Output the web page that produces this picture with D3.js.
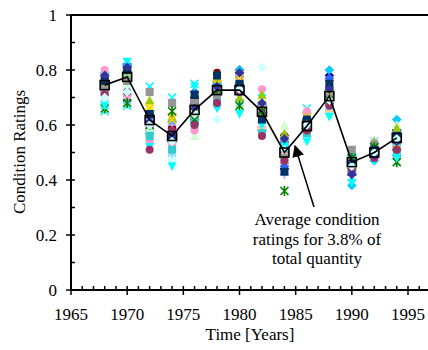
<!DOCTYPE html>
<html><head><meta charset="utf-8">
<script src="https://cdn.jsdelivr.net/npm/d3@7"></script>
<style>body{margin:0;background:#fff}svg{display:block}text{font-family:"Liberation Serif","Times New Roman",serif;fill:#000}</style>
</head><body><svg id="c" width="428" height="350"></svg>
<script>
const years = [1968,1970,1972,1974,1976,1978,1980,1982,1984,1986,1988,1990,1992,1994];
const average = [0.745,0.775,0.618,0.56,0.655,0.727,0.727,0.648,0.50,0.596,0.705,0.465,0.50,0.553];
const xTicks = [1965,1970,1975,1980,1985,1990,1995];
const yTicks = [0,0.2,0.4,0.6,0.8,1];
const seriesColors = ["#000080","#FF00FF","#FFFF00","#00FFFF","#800080","#800000","#008080","#0000FF","#00CCFF","#CCFFFF","#CCFFCC","#FFFF99","#99CCFF","#FF99CC","#CC99FF","#FFCC99","#3366FF","#33CCCC","#99CC00","#FFCC00","#969696","#008000","#00FFFF","#003366","#993366","#333399","#CCFFFF"];
const seriesShapes = ["diamond","square","triangle","x","asterisk","circle","plus","dash","diamond","square","triangle","x","asterisk","circle","plus","dash","diamond","square","triangle","x","square","asterisk","tridown","square","circle","diamond","diamond"];
const s0  = [0.79,0.81,0.65,0.55,0.70,0.76,0.80,0.66,0.44,0.61,0.78,0.44,0.50,0.55];
const s1  = [0.72,0.79,0.60,0.58,0.63,0.68,0.73,0.60,0.53,0.57,0.68,0.46,0.51,0.52];
const s2  = [0.76,0.80,0.67,0.62,0.66,0.77,0.76,0.69,0.49,0.59,0.74,0.48,0.53,0.57];
const s3  = [0.65,0.67,0.74,0.70,0.75,0.73,0.70,0.72,0.51,0.66,0.67,0.47,0.49,0.54];
const s4  = [0.75,0.70,0.63,0.60,0.67,0.74,0.77,0.65,0.55,0.63,0.75,0.45,0.52,0.50];
const s5  = [0.77,0.78,0.64,0.59,0.69,0.79,0.78,0.64,0.56,0.60,0.72,0.43,0.50,0.56];
const s6  = [0.73,0.76,0.58,0.57,0.62,0.71,0.69,0.58,0.46,0.58,0.69,0.49,0.48,0.51];
const s7  = [0.74,0.82,0.62,0.54,0.68,0.72,0.75,0.67,0.50,0.62,0.71,0.42,0.51,0.58];
const s8  = [0.79,0.82,0.57,0.61,0.65,0.75,0.80,0.63,0.52,0.60,0.80,0.38,0.47,0.62];
const s9  = [0.69,0.73,0.55,0.48,0.59,0.70,0.72,0.61,0.48,0.56,0.70,0.46,0.50,0.55];
const s10 = [0.71,0.74,0.59,0.52,0.56,0.69,0.66,0.70,0.60,0.55,0.64,0.44,0.49,0.60];
const s11 = [0.78,0.79,0.66,0.56,0.64,0.78,0.77,0.68,0.47,0.64,0.76,0.48,0.52,0.53];
const s12 = [0.70,0.69,0.61,0.50,0.60,0.72,0.68,0.62,0.54,0.58,0.66,0.41,0.54,0.49];
const s13 = [0.80,0.71,0.54,0.53,0.58,0.67,0.74,0.73,0.49,0.65,0.73,0.45,0.48,0.56];
const s14 = [0.72,0.77,0.62,0.60,0.63,0.73,0.71,0.66,0.42,0.61,0.68,0.40,0.50,0.52];
const s15 = [0.76,0.75,0.68,0.64,0.66,0.76,0.76,0.59,0.51,0.59,0.65,0.47,0.53,0.54];
const s16 = [0.78,0.80,0.63,0.57,0.72,0.74,0.79,0.64,0.45,0.62,0.77,0.43,0.49,0.57];
const s17 = [0.74,0.78,0.56,0.51,0.61,0.70,0.73,0.57,0.53,0.57,0.72,0.49,0.51,0.50];
const s18 = [0.77,0.81,0.69,0.63,0.64,0.77,0.70,0.71,0.57,0.60,0.74,0.47,0.54,0.59];
const s19 = [0.75,0.79,0.66,0.62,0.67,0.75,0.78,0.67,0.50,0.63,0.71,0.45,0.50,0.53];
const s20 = [0.73,0.76,0.72,0.68,0.68,0.71,0.74,0.63,0.48,0.59,0.70,0.51,0.53,0.55];
const s21 = [0.66,0.68,0.60,0.65,0.62,0.73,0.67,0.65,0.36,0.61,0.69,0.48,0.52,0.465];
const s22 = [0.67,0.83,0.52,0.45,0.74,0.66,0.64,0.60,0.52,0.54,0.63,0.39,0.47,0.48];
const s23 = [0.76,0.80,0.64,0.55,0.71,0.78,0.75,0.62,0.43,0.62,0.75,0.46,0.51,0.56];
const s24 = [0.71,0.72,0.51,0.58,0.60,0.68,0.72,0.56,0.47,0.58,0.67,0.44,0.48,0.51];
const s25 = [0.78,0.81,0.61,0.56,0.66,0.74,0.79,0.68,0.55,0.60,0.73,0.42,0.49,0.54];
const s26 = [0.70,0.72,0.60,0.54,0.64,0.62,0.73,0.81,0.51,0.60,0.69,0.45,0.50,0.55];
const seriesValues = [s0,s1,s2,s3,s4,s5,s6,s7,s8,s9,s10,s11,s12,s13,s14,s15,s16,s17,s18,s19,s20,s21,s22,s23,s24,s25,s26];

const svg = d3.select("#c");
const x = d3.scaleLinear().domain([1965,1995]).range([71,408]);
const y = d3.scaleLinear().domain([0,1]).range([290,15]);

function shapePath(t){
  switch(t){
    case "diamond": return {d:"M0,-4.8L4.8,0L0,4.8L-4.8,0Z",fill:true};
    case "square": return {d:"M-4,-4H4V4H-4Z",fill:true};
    case "triangle": return {d:"M0,-4.8L4.5,4L-4.5,4Z",fill:true};
    case "tridown": return {d:"M0,4.8L4.5,-4L-4.5,-4Z",fill:true};
    case "circle": return {d:"M4,0A4,4 0 1,1 -4,0A4,4 0 1,1 4,0Z",fill:true};
    case "dash": return {d:"M-4.5,-1.3H4.5V1.3H-4.5Z",fill:true};
    case "x": return {d:"M-4,-4L4,4M-4,4L4,-4",fill:false};
    case "asterisk": return {d:"M-4,-4L4,4M-4,4L4,-4M0,-5V5",fill:false};
    case "plus": return {d:"M-4.5,0H4.5M0,-4.5V4.5",fill:false};
  }
}

// markers
const gm = svg.append("g");
seriesValues.forEach((vals,i)=>{
  const sp = shapePath(seriesShapes[i]);
  gm.selectAll(null).data(vals.map((v,j)=>({yr:years[j],v}))).enter().append("path")
    .attr("transform",d=>`translate(${x(d.yr)},${y(d.v)})`)
    .attr("d",sp.d)
    .attr("fill",sp.fill?seriesColors[i]:"none")
    .attr("stroke",sp.fill?"none":seriesColors[i])
    .attr("stroke-width",1.7);
});

// average line
const pts = years.map((yr,j)=>({yr,v:average[j]}));
svg.append("path").datum(pts)
  .attr("d",d3.line().x(d=>x(d.yr)).y(d=>y(d.v)))
  .attr("fill","none").attr("stroke","#000").attr("stroke-width",1.6);
svg.selectAll(null).data(pts).enter().append("rect")
  .attr("x",d=>x(d.yr)-4.5).attr("y",d=>y(d.v)-4.5)
  .attr("width",9).attr("height",9)
  .attr("fill","none").attr("stroke","#000").attr("stroke-width",1.6);

// axes frame
svg.append("line").attr("x1",71).attr("x2",428).attr("y1",y(1)).attr("y2",y(1)).attr("stroke","#000").attr("stroke-width",2);
svg.append("line").attr("x1",71).attr("x2",71).attr("y1",y(1)).attr("y2",y(0)+1).attr("stroke","#000").attr("stroke-width",2);
svg.append("line").attr("x1",70).attr("x2",428).attr("y1",y(0)).attr("y2",y(0)).attr("stroke","#000").attr("stroke-width",2);

// y ticks
const yMinor = d3.range(1,10,2).map(k=>k/10);
svg.selectAll(null).data(yTicks).enter().append("line")
  .attr("x1",66).attr("x2",75).attr("y1",d=>y(d)).attr("y2",d=>y(d)).attr("stroke","#000").attr("stroke-width",1.5);
svg.selectAll(null).data(yMinor).enter().append("line")
  .attr("x1",71).attr("x2",75).attr("y1",d=>y(d)).attr("y2",d=>y(d)).attr("stroke","#000").attr("stroke-width",1.5);
svg.selectAll(null).data(yTicks).enter().append("text")
  .attr("x",57).attr("y",d=>y(d)+6).attr("text-anchor","end").attr("font-size",17)
  .text(d=>d===0||d===1?String(d):d.toFixed(1));

// x ticks
const xMinor = d3.range(1966,1999).filter(v=>v%5!==0);
svg.selectAll(null).data(xTicks).enter().append("line")
  .attr("x1",d=>x(d)).attr("x2",d=>x(d)).attr("y1",286).attr("y2",295).attr("stroke","#000").attr("stroke-width",1.5);
svg.selectAll(null).data(xMinor).enter().append("line")
  .attr("x1",d=>x(d)).attr("x2",d=>x(d)).attr("y1",286).attr("y2",290).attr("stroke","#000").attr("stroke-width",1.5);
svg.selectAll(null).data(xTicks).enter().append("text")
  .attr("x",d=>x(d)).attr("y",320).attr("text-anchor","middle").attr("font-size",17)
  .text(d=>d);

// axis titles
svg.append("text").attr("x",250).attr("y",340).attr("text-anchor","middle").attr("font-size",17).text("Time [Years]");
svg.append("text").attr("transform","translate(25,152) rotate(-90)").attr("text-anchor","middle").attr("font-size",17).text("Condition Ratings");

// annotation
const ann = ["Average condition","ratings for 3.8% of","total quantity"];
svg.append("g").selectAll("text").data(ann).enter().append("text")
  .attr("x",317).attr("y",(d,i)=>225+i*19.5).attr("text-anchor","middle").attr("font-size",17).text(d=>d);
svg.append("defs").append("marker").attr("id","ah").attr("viewBox","0 0 10 10").attr("refX",9).attr("refY",5)
  .attr("markerWidth",8).attr("markerHeight",8).attr("orient","auto-start-reverse")
  .append("path").attr("d","M0,0L10,5L0,10Z").attr("fill","#000");
svg.append("line").attr("x1",314).attr("y1",207).attr("x2",295).attr("y2",146)
  .attr("stroke","#000").attr("stroke-width",1.5).attr("marker-end","url(#ah)");
</script></body></html>
